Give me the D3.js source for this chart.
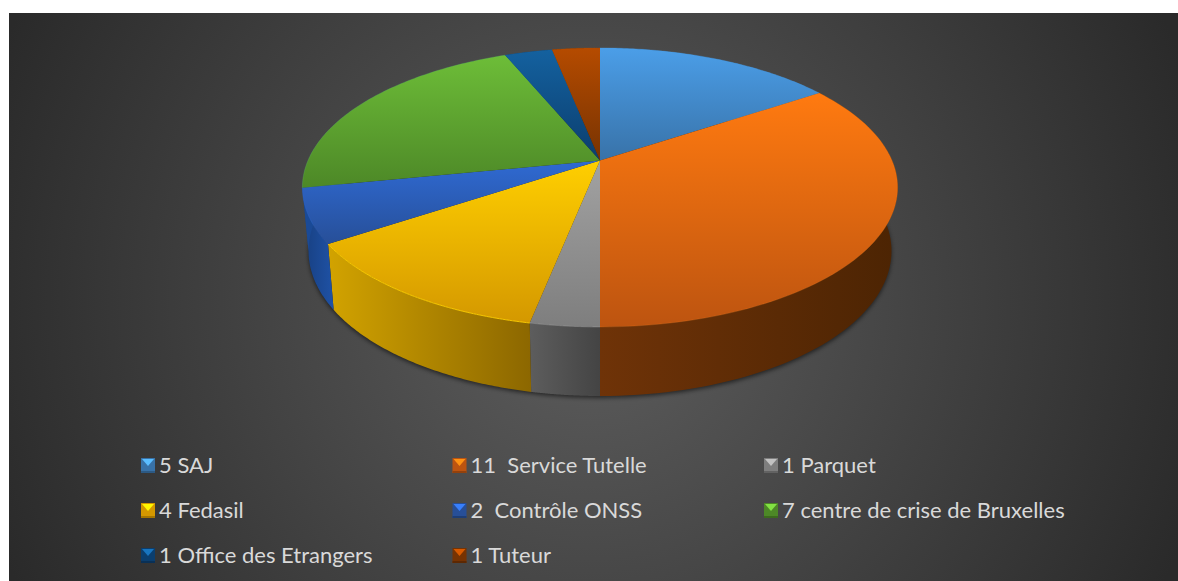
<!DOCTYPE html>
<html>
<head>
<meta charset="utf-8">
<script src="https://cdn.jsdelivr.net/npm/d3@7"></script>
<style>
html, body { margin: 0; padding: 0; background: #fff; }
svg { display: block; }
text { font-family: "Lato", "Open Sans", sans-serif; }
</style>
</head>
<body>
<svg width="1178" height="581"></svg>
<script>
const categories = ['5 SAJ', '11  Service Tutelle', '1 Parquet', '4 Fedasil', '2  Contrôle ONSS', '7 centre de crise de Bruxelles', '1 Office des Etrangers', '1 Tuteur'];
const values = [5, 11, 1, 4, 2, 7, 1, 1];

// [light, dark] for the top face of each slice
const topColors = [
	['#4b9ee8', '#3872a8'], ['#ff7a10', '#bd5410'], ['#a2a2a2', '#7e7e7e'], ['#ffcf00', '#d49800'],
	['#2f6ad3', '#274f98'], ['#6dbd38', '#4d8827'], ['#14619f', '#0b3e6e'], ['#b54b00', '#773302']
];
// [left, right] for the side wall, green sits behind the blue edge in the original
const wallColors = [
	['#2c5a85', '#2c5a85'], ['#6f3308', '#4c2403'], ['#5d5d5d', '#444444'], ['#d2a300', '#8c6700'],
	['#173f80', '#1f52a6'], ['#1a4a96', '#1a4a96'], ['#0b3e6e', '#0b3e6e'], ['#773302', '#773302']
];
const rimOpacity = [0.3, 0.25, 0.5, 0.9, 0.4, 0.3, 0.3, 0.3];

const svg = d3.select('svg');
const defs = svg.append('defs');

// background
const bg = defs.append('radialGradient').attr('id', 'bg').attr('gradientUnits', 'userSpaceOnUse')
	.attr('cx', 590).attr('cy', 300).attr('r', 640);
bg.append('stop').attr('offset', 0).attr('stop-color', '#5e5e5e');
bg.append('stop').attr('offset', 1).attr('stop-color', '#2a2a2a');
svg.append('rect').attr('x', 9).attr('y', 13).attr('width', 1169).attr('height', 568).attr('fill', 'url(#bg)');

defs.append('filter').attr('id', 'blur').attr('x', '-5%').attr('y', '-5%').attr('width', '110%').attr('height', '110%')
	.append('feGaussianBlur').attr('stdDeviation', 2);

// the pie is a flat circle seen in perspective, so it goes through a small projection
const tilt = 0.193;
function project(a, top) {
	const u = Math.sin(a), v = -Math.cos(a), w = 1 - tilt * v;
	if (top) return [600 + 292 * u / w, 160.5 + 134.3 * v / w];
	return [600 + 286 * u / w, 223 + 139.6 * v / w];
}

function arcPoints(d, top) {
	const n = 80;
	return d3.range(n + 1).map(i => project(d.startAngle + (d.endAngle - d.startAngle) * i / n, top));
}

const line = d3.line();
const slices = d3.pie().sort(null)(values);

function addGradient(id, colors, horizontal) {
	const g = defs.append('linearGradient').attr('id', id)
		.attr('x1', 0).attr('y1', 0).attr('x2', horizontal ? 1 : 0).attr('y2', horizontal ? 0 : 1);
	g.append('stop').attr('offset', 0).attr('stop-color', colors[0]);
	g.append('stop').attr('offset', 1).attr('stop-color', colors[1]);
}
topColors.forEach((c, i) => addGradient('top' + i, c, false));
wallColors.forEach((c, i) => addGradient('wall' + i, c, true));

function wallPath(d) {
	return line(arcPoints(d, true).concat(arcPoints(d, false).reverse())) + 'Z';
}

// soft shadow under the pie
const fullCircle = { startAngle: 0, endAngle: 2 * Math.PI };
svg.append('path')
	.attr('d', line(arcPoints(fullCircle, false)) + 'Z')
	.attr('transform', 'translate(0,2)')
	.attr('fill', '#000').attr('opacity', 0.55).attr('filter', 'url(#blur)');

svg.append('g').selectAll('path').data(slices).join('path')
	.attr('d', wallPath)
	.attr('fill', (d, i) => `url(#wall${i})`);

svg.append('g').selectAll('path').data(slices).join('path')
	.attr('d', d => line([[600, 160.5]].concat(arcPoints(d, true))) + 'Z')
	.attr('fill', (d, i) => `url(#top${i})`);

// thin lit edge along the rim
svg.append('g').selectAll('path').data(slices).join('path')
	.attr('d', d => line(arcPoints(d, true)))
	.attr('fill', 'none')
	.attr('stroke', (d, i) => topColors[i][0])
	.attr('stroke-width', 1)
	.attr('stroke-opacity', (d, i) => rimOpacity[i]);

// legend
const legendX = d3.scalePoint().domain([0, 1, 2]).range([141, 764]);
const legendY = d3.scalePoint().domain([0, 1, 2]).range([465, 555]);
const legend = svg.append('g').selectAll('g').data(categories).join('g')
	.attr('transform', (d, i) => `translate(${legendX(i % 3)},${legendY(Math.floor(i / 3))})`);

legend.append('rect').attr('x', 0).attr('y', -7).attr('width', 14).attr('height', 15)
	.attr('fill', (d, i) => topColors[i][1]);
legend.append('path').attr('d', 'M1,-6H13L7,1Z')
	.attr('fill', (d, i) => d3.color(topColors[i][0]).brighter(0.5));
legend.append('rect').attr('x', 0).attr('y', 6).attr('width', 14).attr('height', 2)
	.attr('fill', (d, i) => d3.color(topColors[i][1]).darker(0.7));

legend.append('text')
	.attr('x', 18).attr('y', 7.5)
	.attr('font-size', 22)
	.attr('fill', '#d9d9d9')
	.style('white-space', 'pre')
	.text(d => d);
</script>
</body>
</html>
